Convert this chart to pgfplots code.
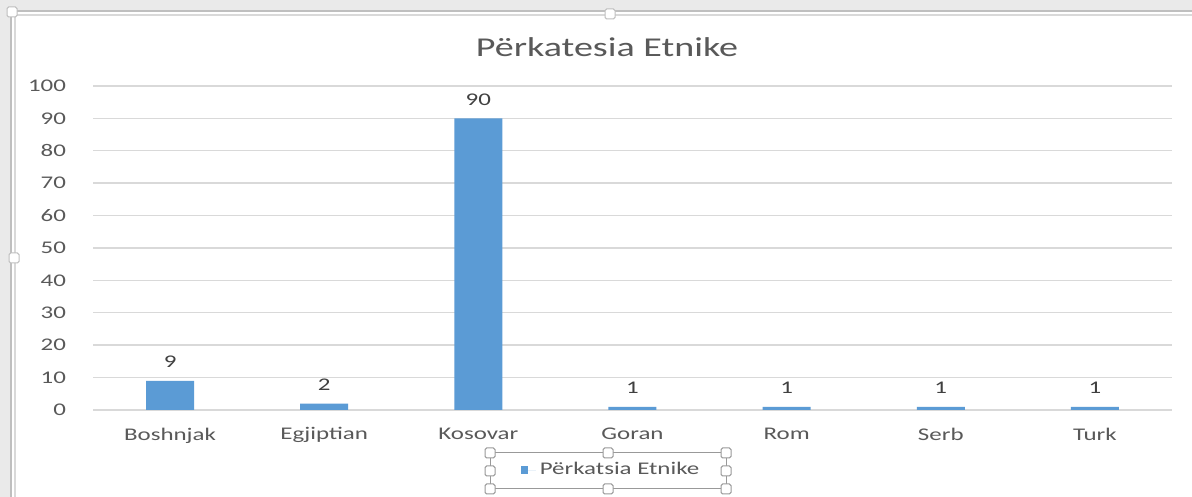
\documentclass[border=0pt]{standalone}
\usepackage{pgfplots}
\pgfplotsset{compat=1.18}
\usepackage{fontspec}
\setmainfont{Carlito}[FakeStretch=1.4]
\definecolor{barblue}{HTML}{5B9BD5}
\definecolor{txtgray}{HTML}{595959}
\definecolor{lblgray}{HTML}{404040}
\definecolor{gridgray}{HTML}{D9D9D9}
\definecolor{bggray}{HTML}{EAEAEA}
\definecolor{framegray}{HTML}{BFBFBF}
\newcommand\lbl{\fontsize{8.9bp}{10bp}\selectfont}
\begin{document}
\begin{tikzpicture}
\useasboundingbox (0,0) rectangle (596bp,248.5bp);
\fill[bggray] (0,0) rectangle (596bp,248.5bp);
\fill[white] (6bp,0) rectangle (596bp,242.5bp);
\draw[framegray,line width=0.8bp] (5.5bp,0) -- (5.5bp,243bp) -- (596bp,243bp);
\draw[gridgray,line width=0.6bp] (7.5bp,0) -- (7.5bp,241bp) -- (596bp,241bp);
% selection handles of chart area
\foreach \p in {(6bp,242.5bp),(305bp,241.5bp),(7bp,119.5bp)}
  \draw[framegray,fill=white,line width=0.5bp,rounded corners=0.8bp] \p ++(-2.5bp,-2.5bp) rectangle ++(5bp,5bp);
\begin{axis}[
  at={(46.5bp,43.5bp)}, anchor=south west,
  scale only axis, width=539.5bp, height=162bp,
  xmin=-0.5, xmax=6.5, ymin=0, ymax=100,
  ytick={0,10,...,100},
  xtick={0,1,2,3,4,5,6},
  xticklabels={Boshnjak,Egjiptian,Kosovar,Goran,Rom,Serb,Turk},
  ymajorgrids, grid style={gridgray, line width=0.7bp},
  axis line style={draw=none},
  major tick length=0,
  /pgf/number format/assume math mode=true,
  tick label style={font=\lbl, text=txtgray},
  yticklabel style={xshift=-10bp},
  xticklabel style={yshift=-5.3bp},
  ybar, bar width=24bp,
  nodes near coords,
  nodes near coords style={font=\lbl, text=lblgray, yshift=3bp},
  legend style={at={(0.481,-0.1852)}, anchor=center, draw=none, fill=none,
    font=\lbl, text=txtgray, legend cell align=left},
  legend image code/.code={\fill[barblue] (0bp,-1.85bp) rectangle (3.7bp,1.85bp);\path (0bp,0bp) -- (7.5bp,0bp);},
]
\addplot[fill=barblue, draw=none] coordinates {(0,9) (1,2) (2,90) (3,1) (4,1) (5,1) (6,1)};
\addlegendentry{Përkatsia Etnike}
\end{axis}
\node[text=txtgray, font=\fontsize{13.6bp}{15bp}\selectfont] at (303.5bp,225bp) {Përkatesia Etnike};
% legend selection frame
\draw[framegray!80!black,line width=0.5bp] (245bp,4bp) rectangle (363bp,22bp);
\foreach \x in {245,304,363}{
  \foreach \y in {4,22}{
    \draw[framegray!80!black,fill=white,line width=0.5bp,rounded corners=0.8bp] (\x bp-2.5bp,\y bp-2.5bp) rectangle ++(5bp,5bp);
  }}
\foreach \x in {245,363}
  \draw[framegray!80!black,fill=white,line width=0.5bp,rounded corners=0.8bp] (\x bp-2.5bp,10.5bp) rectangle ++(5bp,5bp);
\end{tikzpicture}
\end{document}
